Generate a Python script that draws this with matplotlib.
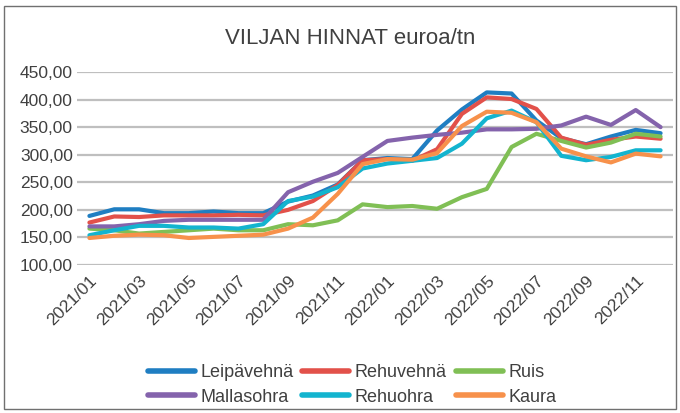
import matplotlib
matplotlib.use("Agg")
import matplotlib.pyplot as plt
from matplotlib.patches import Rectangle
from matplotlib.transforms import ScaledTranslation

months = [f"{y}/{m:02d}" for y in (2021, 2022) for m in range(1, 13)]
tick_labels = months[::2]

series_names = ["Leipävehnä", "Rehuvehnä", "Ruis", "Mallasohra", "Rehuohra", "Kaura"]
leipavehna = [189, 201, 201, 194, 194, 197, 194, 194, 215, 226, 246, 290,
              294, 292, 344, 382, 413, 411, 362, 330, 319, 333, 345, 339]
rehuvehna = [177, 188, 187, 190, 190, 190, 191, 190, 200, 216, 245, 290,
             292, 289, 310, 374, 404, 401, 383, 331, 318, 327, 333, 329]
ruis = [166, 163, 157, 160, 163, 166, 163, 163, 174, 172, 181, 210,
        205, 207, 202, 223, 238, 314, 338, 325, 313, 322, 338, 333]
mallasohra = [170, 170, 174, 180, 182, 182, 182, 182, 232, 251, 267, 296,
              325, 331, 336, 340, 346, 346, 347, 353, 369, 354, 381, 350]
rehuohra = [154, 163, 171, 171, 168, 168, 166, 174, 216, 224, 241, 275,
            284, 289, 294, 320, 366, 380, 359, 298, 290, 296, 308, 308]
kaura = [149, 153, 155, 154, 149, 151, 153, 155, 166, 186, 229, 283,
         292, 291, 303, 352, 378, 376, 359, 311, 297, 286, 302, 297]

colors = ["#1F7EC2", "#E2514A", "#80BF55", "#8463AC", "#13B4CF", "#F7914B"]
data = [leipavehna, rehuvehna, ruis, mallasohra, rehuohra, kaura]

plt.rcParams['font.family'] = ['Liberation Sans', 'DejaVu Sans']
txt = "#404040"

fig = plt.figure(figsize=(6.8, 4.13), dpi=100)
ax = fig.add_axes([77/680, 1-265/413, (673-77)/680, (265-72)/413])

x = list(range(len(months)))
handles = []
for name, vals, c in zip(series_names, data, colors):
    h, = ax.plot(x, vals, color=c, lw=3.0, label=name,
                 solid_capstyle='round', solid_joinstyle='round')
    handles.append(h)

ax.set_xlim(-0.5, len(months) - 0.5)
ax.set_ylim(100, 450)
yt = list(range(100, 451, 50))
ax.set_yticks(yt)
ax.set_yticklabels([f"{v:.2f}".replace(".", ",") for v in yt], fontsize=12.5, color=txt)
ax.set_xticks(x[::2])
ax.set_xticklabels(tick_labels, rotation=45, ha='right', va='top',
                   rotation_mode='anchor', fontsize=12.5, color=txt)
off = ScaledTranslation(6/100, -3/100, fig.dpi_scale_trans)
for lab in ax.get_xticklabels():
    lab.set_transform(lab.get_transform() + off)
ax.tick_params(axis='both', length=0, pad=3)
ax.tick_params(axis='x', pad=6)
ax.grid(axis='y', color='#BFBFBF', lw=1.6)
ax.set_axisbelow(True)
for s in ax.spines.values():
    s.set_visible(False)

fig.text(350/680, 1-38/413, "VILJAN HINNAT euroa/tn", ha='center', va='center',
         fontsize=16, color=txt)

order = [0, 3, 1, 4, 2, 5]
leg = fig.legend([handles[i] for i in order], [series_names[i] for i in order],
                 loc='center', bbox_to_anchor=(352/680, 1-385/413), ncol=3, frameon=False,
                 fontsize=13, handlelength=2.6, handletextpad=0.3, columnspacing=0.5,
                 labelspacing=0.4)
for t in leg.get_texts():
    t.set_color(txt)
for l in leg.get_lines():
    l.set_linewidth(4)

fig.patches.append(Rectangle((4/680, 4/413), 672/680, 403/413, transform=fig.transFigure,
                             fill=False, edgecolor='#707070', lw=1.0))

fig.savefig("out.png", dpi=100, facecolor='white')
